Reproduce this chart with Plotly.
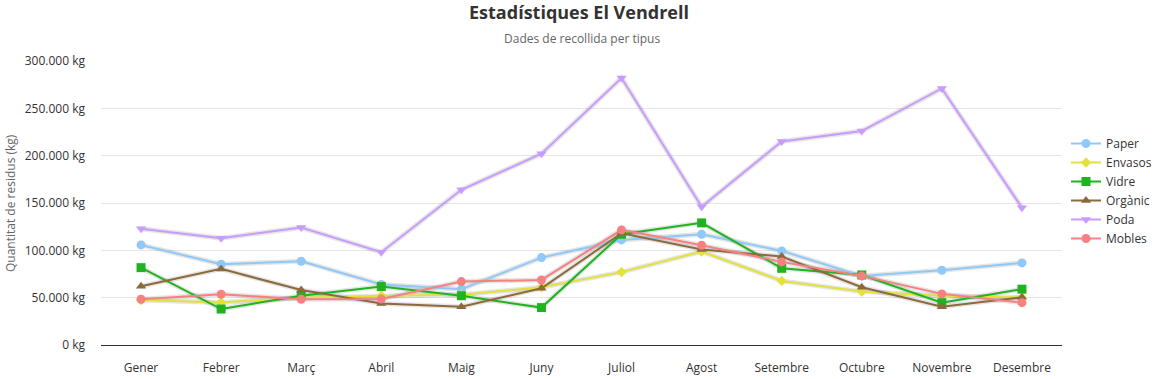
import plotly.graph_objects as go

months = ["Gener", "Febrer", "Març", "Abril", "Maig", "Juny", "Juliol",
          "Agost", "Setembre", "Octubre", "Novembre", "Desembre"]

paper = [105700, 85300, 88500, 64000, 59000, 92300, 111000, 117000, 99400, 73000, 79000, 86700]
envasos = [47600, 45000, 50000, 52000, 53000, 61000, 77000, 98700, 67700, 56400, 52000, 50000]
vidre = [81700, 38000, 52000, 61700, 52000, 39500, 117000, 129000, 81000, 74000, 44700, 59000]
organic = [62000, 80400, 58000, 43800, 40500, 60000, 118000, 101000, 93400, 61000, 40500, 50400]
poda = [122700, 112800, 124000, 98000, 164000, 202000, 282000, 146000, 215000, 226000, 271000, 145000]
mobles = [48300, 53600, 48300, 48600, 67000, 68700, 121600, 105400, 87800, 73000, 54000, 44700]

y_tickvals = [0, 50000, 100000, 150000, 200000, 250000, 300000]
y_ticktext = ["0 kg", "50.000 kg", "100.000 kg", "150.000 kg", "200.000 kg",
              "250.000 kg", "300.000 kg"]

series = [
    ("Paper", paper, "#90c8f8", "circle"),
    ("Envasos", envasos, "#e2e23a", "diamond"),
    ("Vidre", vidre, "#1fb31f", "square"),
    ("Orgànic", organic, "#8c6a3c", "triangle-up"),
    ("Poda", poda, "#c89cff", "triangle-down"),
    ("Mobles", mobles, "#f78080", "circle"),
]

W, H = 1158, 379
ML, MR, MT, MB = 101, 96, 61, 34
PW, PH = W - ML - MR, H - MT - MB
FONT = "Open Sans, sans-serif"

fig = go.Figure()

# soft shadows under the lines
for name, vals, color, sym in series:
    fig.add_trace(go.Scatter(
        x=months, y=vals, mode="lines",
        line=dict(color="rgba(0,0,0,0.10)", width=5),
        hoverinfo="skip", showlegend=False))

for name, vals, color, sym in series:
    fig.add_trace(go.Scatter(
        x=months, y=vals, name=name, mode="lines+markers",
        line=dict(color=color, width=2),
        marker=dict(symbol=sym, size=9 if sym != "diamond" else 8, color=color,
                    line=dict(width=0)),
    ))

fig.update_layout(
    width=W, height=H,
    margin=dict(l=ML, r=MR, t=MT, b=MB, autoexpand=False),
    paper_bgcolor="white", plot_bgcolor="white",
    font=dict(family=FONT, size=12, color="#333333"),
    title=dict(text="<b>Estadístiques El Vendrell</b>", x=0.5, xanchor="center",
               xref="container", yref="container",
               y=1 - 12.5 / H, yanchor="middle",
               font=dict(family=FONT, size=18, color="#333333")),
    annotations=[
        dict(text="Dades de recollida per tipus", xref="paper", yref="paper",
             x=0.5, xanchor="center", y=1.0 + (MT - 38) / PH, yanchor="middle",
             showarrow=False, font=dict(family=FONT, size=12, color="#666666")),
        dict(text="Quantitat de residus (kg)", xref="paper", yref="paper",
             x=(10 - ML) / PW, xanchor="center", y=0.5, yanchor="middle",
             textangle=-90, showarrow=False,
             font=dict(family=FONT, size=12, color="#666666")),
    ],
    legend=dict(x=(1066 - ML) / PW, xanchor="left", y=1 - (129 - MT) / PH, yanchor="top",
                font=dict(size=12, color="#333333"), tracegroupgap=0,
                itemwidth=30, bgcolor="rgba(0,0,0,0)"),
    showlegend=True,
)

fig.update_xaxes(
    showgrid=False, showline=True, linecolor="#333333", linewidth=1,
    ticks="", tickfont=dict(size=12, color="#333333"),
    range=[-0.5, 11.5], automargin=False, ticklabelstandoff=12,
)
fig.update_yaxes(
    range=[0, 300000], tickmode="array", tickvals=y_tickvals, ticktext=y_ticktext,
    showgrid=True, gridcolor="#e6e6e6",
    zeroline=True, zerolinecolor="#333333", zerolinewidth=1,
    tickfont=dict(size=12, color="#333333"), automargin=False,
    ticklabelstandoff=15,
)

fig.write_html("out.html", config={"displayModeBar": False},
               post_script="document.body.style.margin='0';document.body.style.overflow='hidden';")
